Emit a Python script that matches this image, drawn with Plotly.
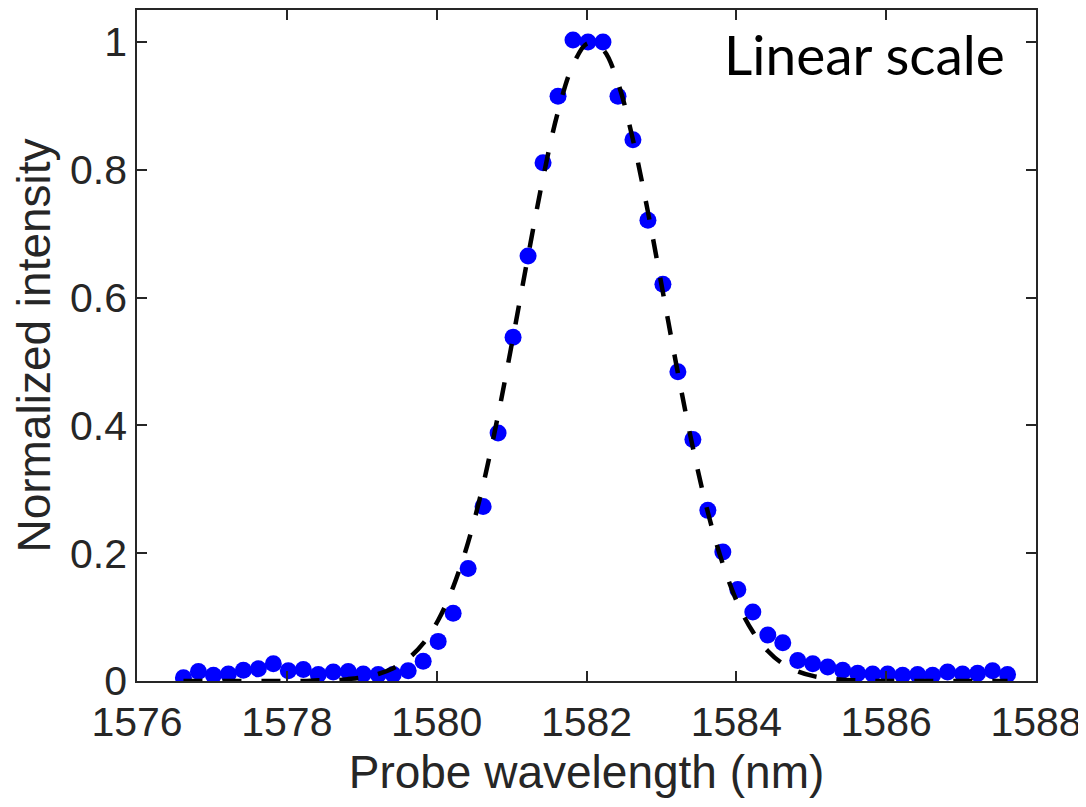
import plotly.graph_objects as go

# Measured data (probe wavelength in nm, normalized intensity)
wavelength = [1576.62, 1576.82, 1577.02, 1577.22, 1577.42, 1577.62, 1577.82, 1578.02,
              1578.22, 1578.42, 1578.62, 1578.82, 1579.02, 1579.22, 1579.42, 1579.62,
              1579.82, 1580.02, 1580.22, 1580.42, 1580.62, 1580.82, 1581.02, 1581.22,
              1581.42, 1581.62, 1581.82, 1582.02, 1582.22, 1582.42, 1582.62, 1582.82,
              1583.02, 1583.22, 1583.42, 1583.62, 1583.82, 1584.02, 1584.22, 1584.42,
              1584.62, 1584.82, 1585.02, 1585.22, 1585.42, 1585.62, 1585.82, 1586.02,
              1586.22, 1586.42, 1586.62, 1586.82, 1587.02, 1587.22, 1587.42, 1587.62]

intensity = [0.005, 0.015, 0.009, 0.011, 0.017, 0.019, 0.027, 0.016,
             0.018, 0.010, 0.014, 0.015, 0.011, 0.010, 0.010, 0.016,
             0.031, 0.062, 0.106, 0.176, 0.273, 0.388, 0.538, 0.665,
             0.811, 0.915, 1.003, 1.000, 1.000, 0.915, 0.847, 0.721,
             0.621, 0.484, 0.378, 0.267, 0.202, 0.143, 0.108, 0.072,
             0.060, 0.032, 0.027, 0.022, 0.017, 0.012, 0.011, 0.011,
             0.009, 0.010, 0.009, 0.014, 0.011, 0.012, 0.016, 0.010]

# Dashed fit curve at the same wavelengths
fit = [0.000, 0.000, 0.000, 0.000, 0.000, 0.000, 0.000, 0.000,
       0.000, 0.001, 0.001, 0.003, 0.006, 0.011, 0.020, 0.035,
       0.059, 0.095, 0.147, 0.217, 0.307, 0.416, 0.538, 0.665,
       0.787, 0.891, 0.964, 0.998, 0.988, 0.936, 0.847, 0.734,
       0.608, 0.482, 0.365, 0.264, 0.183, 0.121, 0.077, 0.047,
       0.027, 0.015, 0.008, 0.004, 0.002, 0.001, 0.000, 0.000,
       0.000, 0.000, 0.000, 0.000, 0.000, 0.000, 0.000, 0.000]

x_ticks = [1576, 1578, 1580, 1582, 1584, 1586, 1588]
y_ticks = [0, 0.2, 0.4, 0.6, 0.8, 1]
y_tick_labels = ["0", "0.2", "0.4", "0.6", "0.8", "1"]

AX = "#262626"
FONT = "Liberation Sans, Arial, sans-serif"

fig = go.Figure()
fig.add_trace(go.Scatter(
    x=wavelength, y=intensity, mode="markers",
    marker=dict(color="#0000FF", size=17, line=dict(width=0)),
    showlegend=False))
fig.add_trace(go.Scatter(
    x=wavelength, y=fit, mode="lines",
    line=dict(color="black", width=4.5, dash="19px,20px", shape="spline", smoothing=1),
    showlegend=False))

axis_common = dict(
    showline=True, linecolor=AX, linewidth=1.5, mirror="allticks",
    ticks="inside", ticklen=10, tickwidth=1.5, tickcolor=AX,
    showgrid=False, zeroline=False, automargin=False,
    tickfont=dict(family=FONT, size=41, color=AX),
)

# page body has an 8px default margin, so the figure is sized to fit the window
fig.update_layout(
    width=1078, height=799,
    margin=dict(l=129, r=50, t=2, b=126),
    paper_bgcolor="white", plot_bgcolor="white",
    xaxis=dict(range=[1576, 1588], tickvals=x_ticks, ticklabelstandoff=4,
               title=dict(text="Probe wavelength (nm)", font=dict(family=FONT, size=46, color=AX), standoff=12),
               **axis_common),
    yaxis=dict(range=[0, 1.05], tickvals=y_ticks, ticktext=y_tick_labels,
               title=dict(text="Normalized intensity", font=dict(family=FONT, size=46, color=AX), standoff=12),
               **axis_common),
    annotations=[dict(text="Linear scale", xref="paper", yref="paper",
                      x=0.809, y=0.934, xanchor="center", yanchor="middle",
                      showarrow=False, font=dict(family="Lato, Open Sans, sans-serif", size=55, color="black"))],
)

fig.write_html("out.html")
